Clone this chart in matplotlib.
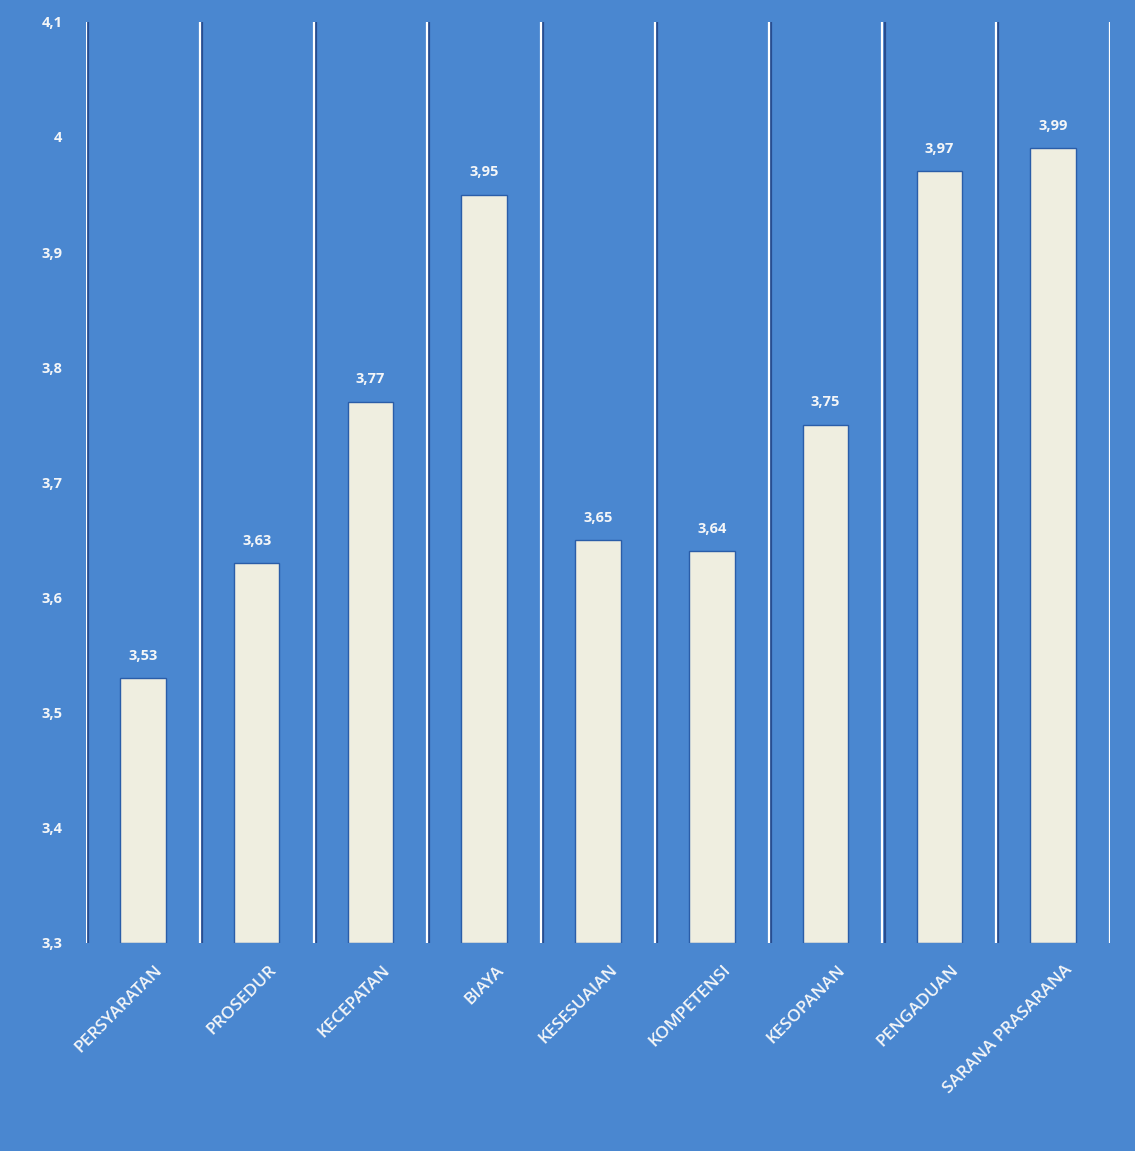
import matplotlib
matplotlib.use("Agg")
import matplotlib.pyplot as plt
import matplotlib.patheffects as pe
from matplotlib.ticker import FuncFormatter
import numpy as np

plt.rcParams["font.family"] = ["Open Sans", "DejaVu Sans"]

categories = ["PERSYARATAN", "PROSEDUR", "KECEPATAN", "BIAYA", "KESESUAIAN",
              "KOMPETENSI", "KESOPANAN", "PENGADUAN", "SARANA PRASARANA"]
scores = [3.53, 3.63, 3.77, 3.95, 3.65, 3.64, 3.75, 3.97, 3.99]
yticks = [3.3, 3.4, 3.5, 3.6, 3.7, 3.8, 3.9, 4.0, 4.1]

bg = "#4a87d0"
bar_col = "#efeee0"
txt = "#f4f6f8"

fig = plt.figure(figsize=(11.35, 11.51), dpi=100, facecolor=bg)
ax = fig.add_axes([0.0758, 0.181, 0.9022, 0.8])
ax.set_facecolor(bg)

x = np.arange(len(categories))
base = yticks[0]
ax.bar(x, np.array(scores) - base, bottom=base, width=0.4,
       color=bar_col, edgecolor="#2a5da8", linewidth=1.0, zorder=3)

# white separators between categories, with a dark edge on the right
for b in np.arange(-0.5, len(categories), 1.0):
    ax.axvline(b, color="white", lw=1.6, zorder=2,
               path_effects=[pe.SimpleLineShadow(offset=(1.5, 0), shadow_color="#1f3f80", alpha=0.8),
                             pe.Normal()])

for xi, v in zip(x, scores):
    ax.annotate(f"{v:.2f}".replace(".", ","), (xi, v), xytext=(0, 11),
                textcoords="offset points", ha="center", va="bottom",
                fontsize=10.5, color=txt, fontweight="bold")

ax.set_xlim(-0.5, len(categories) - 0.5)
ax.set_ylim(base, yticks[-1])
ax.set_yticks(yticks)
ax.yaxis.set_major_formatter(FuncFormatter(lambda v, p: f"{v:g}".replace(".", ",")))
ax.tick_params(axis="y", length=0, pad=17, labelsize=10.5, labelcolor=txt)
for t in ax.get_yticklabels():
    t.set_fontweight("bold")

ax.set_xticks(x + 0.1)
ax.set_xticklabels(categories, rotation=45, ha="right", rotation_mode="anchor",
                   fontsize=12.5, color=txt, fontweight="semibold")
ax.tick_params(axis="x", length=0, pad=14)

for s in ax.spines.values():
    s.set_visible(False)

fig.savefig("out.png", dpi=100, facecolor=bg)
